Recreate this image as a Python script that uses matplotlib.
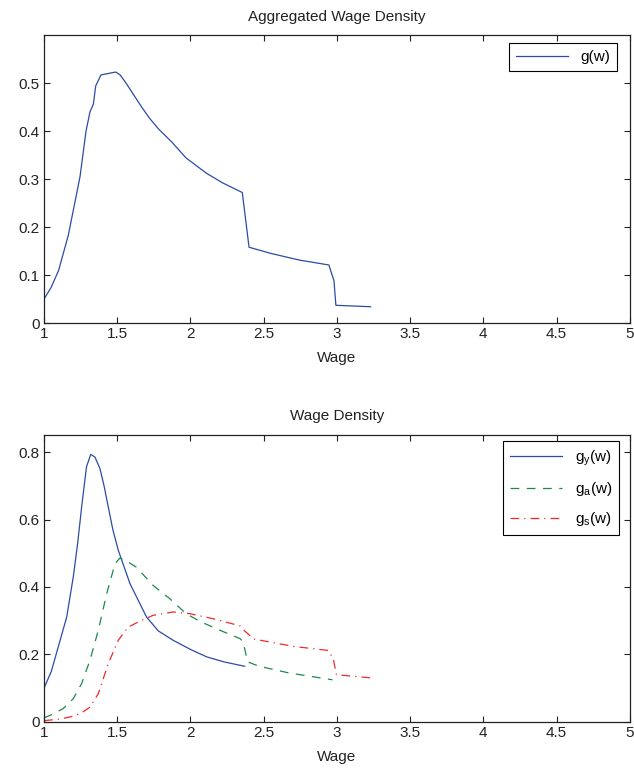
import matplotlib.pyplot as plt

# aggregated wage density g(w)
wage_g = [1.0, 1.05, 1.10, 1.166, 1.21, 1.246, 1.287, 1.314, 1.337, 1.353, 1.389, 1.44,
          1.49, 1.52, 1.56, 1.62, 1.667, 1.72, 1.78, 1.87, 1.97, 2.11, 2.22, 2.354,
          2.40, 2.55, 2.747, 2.945, 2.98, 2.993, 3.23]
dens_g = [0.05, 0.075, 0.11, 0.183, 0.25, 0.305, 0.40, 0.44, 0.456, 0.494, 0.517, 0.52,
          0.523, 0.517, 0.50, 0.472, 0.45, 0.427, 0.405, 0.378, 0.344, 0.312, 0.292, 0.272,
          0.158, 0.145, 0.131, 0.121, 0.088, 0.037, 0.034]

# group densities
wage_y = [1.0, 1.05, 1.097, 1.155, 1.2, 1.23, 1.257, 1.29, 1.319, 1.348, 1.382, 1.41,
          1.439, 1.47, 1.507, 1.587, 1.70, 1.78, 1.882, 2.0, 2.11, 2.23, 2.37]
dens_y = [0.10, 0.15, 0.222, 0.311, 0.43, 0.53, 0.637, 0.756, 0.793, 0.785, 0.751, 0.70,
          0.637, 0.57, 0.509, 0.41, 0.311, 0.27, 0.242, 0.215, 0.193, 0.178, 0.165]

wage_a = [1.0, 1.07, 1.132, 1.2, 1.257, 1.314, 1.371, 1.428, 1.485, 1.519, 1.57, 1.63,
          1.744, 1.857, 1.97, 2.065, 2.2, 2.338, 2.36, 2.39, 2.47, 2.675, 2.97]
dens_a = [0.012, 0.025, 0.04, 0.069, 0.114, 0.183, 0.272, 0.38, 0.469, 0.486, 0.475, 0.459,
          0.405, 0.366, 0.321, 0.298, 0.272, 0.247, 0.237, 0.178, 0.165, 0.145, 0.125]

wage_s = [1.0, 1.1, 1.18, 1.25, 1.314, 1.371, 1.439, 1.507, 1.575, 1.655, 1.744, 1.882,
          1.995, 2.154, 2.338, 2.37, 2.43, 2.703, 2.94, 2.975, 2.986, 2.997, 3.25]
dens_s = [0.004, 0.008, 0.015, 0.025, 0.044, 0.084, 0.173, 0.242, 0.281, 0.299, 0.316, 0.326,
          0.321, 0.306, 0.285, 0.27, 0.246, 0.224, 0.212, 0.188, 0.163, 0.14, 0.13]

xticks = [1, 1.5, 2, 2.5, 3, 3.5, 4, 4.5, 5]
xtick_labels = ["1", "1.5", "2", "2.5", "3", "3.5", "4", "4.5", "5"]

BLUE = "#2b4ca6"
GREEN = "#1a8a4a"
RED = "#ee2a2a"
FS = 11


def style_axes(ax):
    ax.set_xlim(1, 5)
    ax.set_xticks(xticks)
    ax.set_xticklabels(xtick_labels)
    ax.tick_params(direction="in", top=True, right=True, labelsize=FS,
                   length=4, width=0.8, pad=3, colors="#222222")
    for s in ax.spines.values():
        s.set_linewidth(0.9)
        s.set_color("#222222")
    ax.set_xlabel("Wage", fontsize=FS, labelpad=7, color="#222222")


plt.rcParams["font.family"] = ["Liberation Sans", "DejaVu Sans"]
plt.rcParams["mathtext.fontset"] = "custom"
plt.rcParams["mathtext.rm"] = "Liberation Sans"
fig = plt.figure(figsize=(6.34, 7.71), dpi=100)

ax1 = fig.add_axes([0.0694, 0.581, 0.924, 0.3735])
ax1.plot(wage_g, dens_g, color=BLUE, lw=0.9, label="g(w)")
style_axes(ax1)
ax1.set_ylim(0, 0.6)
ax1.set_yticks([0, 0.1, 0.2, 0.3, 0.4, 0.5])
ax1.set_yticklabels(["0", "0.1", "0.2", "0.3", "0.4", "0.5"])
ax1.set_title("Aggregated Wage Density", fontsize=FS, pad=10, color="#222222")
leg1 = ax1.legend(loc="upper right", bbox_to_anchor=(0.978, 0.972), borderaxespad=0,
                  fontsize=FS, fancybox=False, framealpha=1, edgecolor="black",
                  handlelength=3.4, borderpad=0.45)
leg1.get_frame().set_linewidth(0.8)

ax2 = fig.add_axes([0.0694, 0.0636, 0.924, 0.372])
ax2.plot(wage_y, dens_y, color=BLUE, lw=0.9, label=r"g$_\mathregular{y}$(w)")
ax2.plot(wage_a, dens_a, color=GREEN, lw=0.9, ls=(0, (7, 6)), label=r"g$_\mathregular{a}$(w)")
ax2.plot(wage_s, dens_s, color=RED, lw=0.9, ls=(0, (7, 4, 1, 4)), label=r"g$_\mathregular{s}$(w)")
style_axes(ax2)
ax2.set_ylim(0, 0.85)
ax2.set_yticks([0, 0.2, 0.4, 0.6, 0.8])
ax2.set_yticklabels(["0", "0.2", "0.4", "0.6", "0.8"])
ax2.set_title("Wage Density", fontsize=FS, pad=11, color="#222222")
leg2 = ax2.legend(loc="upper right", bbox_to_anchor=(0.981, 0.979), borderaxespad=0,
                  fontsize=FS, fancybox=False, framealpha=1, edgecolor="black",
                  handlelength=3.4, borderpad=0.45, labelspacing=0.8)
leg2.get_frame().set_linewidth(0.8)

fig.savefig("out.png", dpi=100)
